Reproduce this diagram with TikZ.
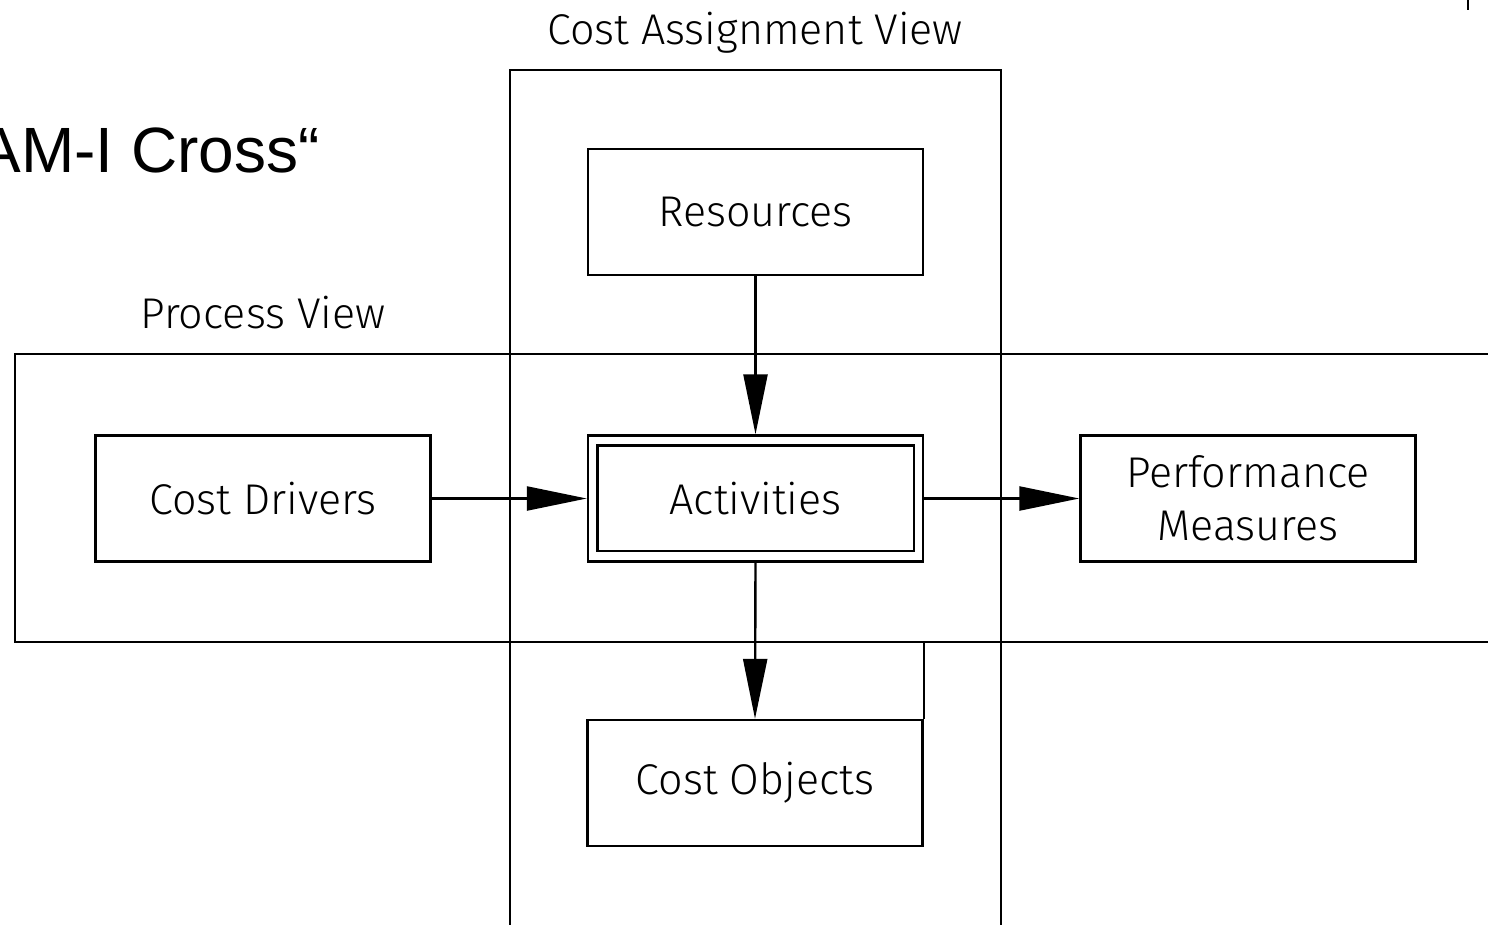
\documentclass[tikz,border=0pt]{standalone}
\usepackage{fontspec}
\setmainfont{Liberation Sans}
\newfontfamily\gfont{Fira Sans Light}
\usetikzlibrary{arrows.meta}
\begin{document}
\begin{tikzpicture}[x=1pt,y=-1pt,
  lw/.style={line width=2.4pt},
  box/.style={lw, draw, fill=white, minimum width=335pt, minimum height=126pt, inner sep=0pt, align=center, font=\gfont\fontsize{43}{53}\selectfont},
  lbl/.style={inner sep=0pt, font=\gfont\fontsize{43}{48}\selectfont},
  arr/.style={lw, -{Triangle[length=60pt,width=24pt]}}]
\useasboundingbox (0,0) rectangle (1488,925);
\begin{scope}
\clip (0,0) rectangle (1488,925);
% views
\draw[lw] (510,70) rectangle (1001,960);
\draw[lw] (15,354) rectangle (1520,642);
\node[lbl, anchor=base] (cav) at (755,45) {Cost Assignment View};
\node[lbl, anchor=base] (pv) at (263,328) {Process View};
\node[inner sep=0pt, anchor=base east, font=\fontsize{64}{70}\selectfont] (title) at (320,173) {AM-I Cross“};
% boxes
\node[box] (res) at (755.5,212) {Resources};
\node[box] (cd) at (263,498.5) {Cost Drivers};
\node[box] (act) at (755.5,498.5) {Activities};
\draw[lw] ([shift={(10.5pt,-11pt)}]act.north west) rectangle ([shift={(-10.5pt,12pt)}]act.south east);
\node[box] (pm) at (1248,498.5) {Performance\\Measures};
\node[box] (co) at (755,783) {Cost Objects};
\coordinate (cotop) at (922,642);
\draw[lw] (co.north east) -- (co.north east |- cotop);
% arrows
\draw[arr] (res.south) -- (act.north);
\draw[arr] (cd.east) -- (act.west);
\draw[arr] (act.east) -- (pm.west);
\draw[arr] (act.south) -- (co.north);
% corner mark
\coordinate (m1) at (1468,0);
\coordinate (m2) at (1468,10);
\draw[line width=2pt] (m1) -- (m2);
\end{scope}
\end{tikzpicture}
\end{document}
